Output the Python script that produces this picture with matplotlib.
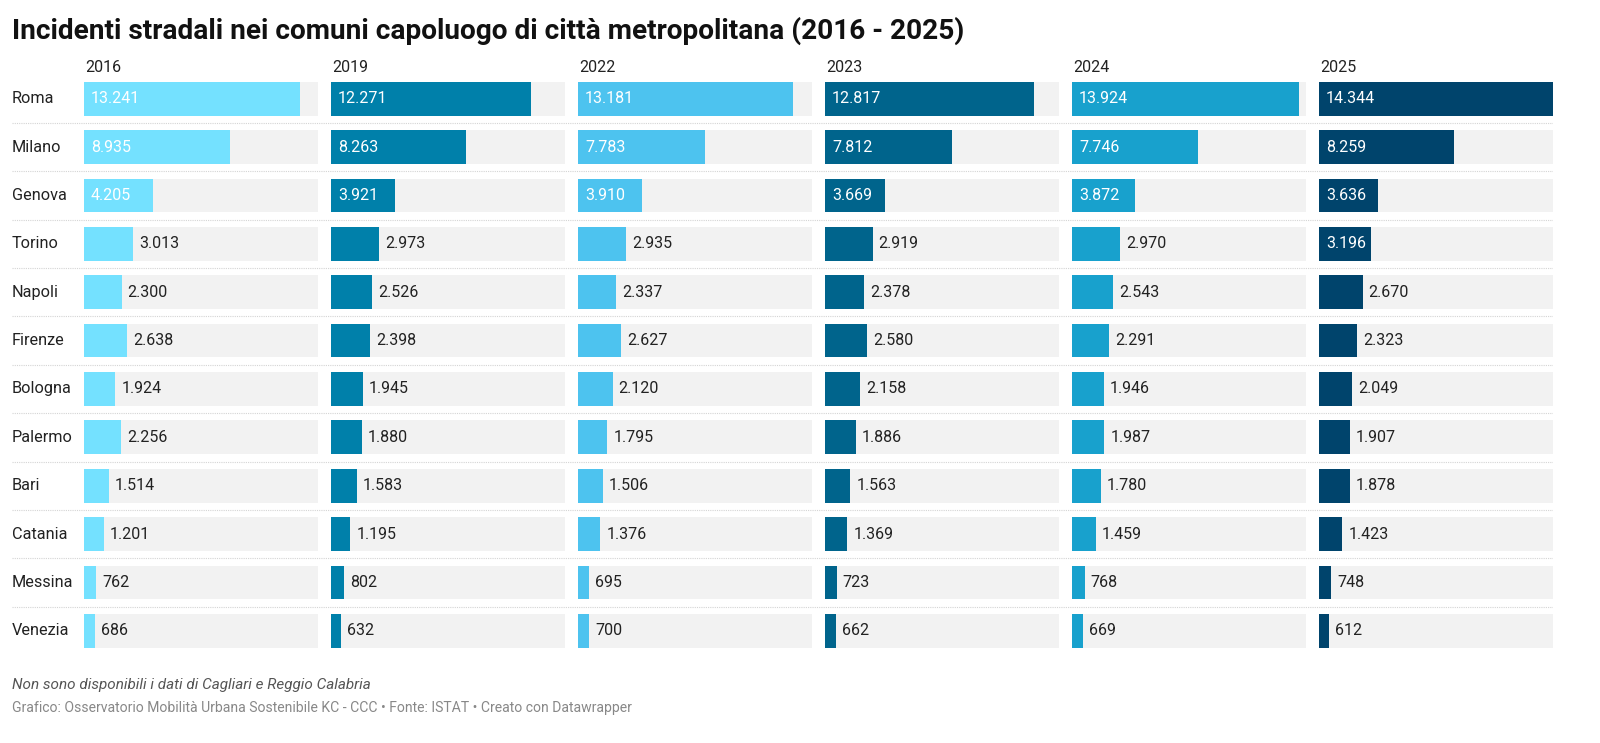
import matplotlib
matplotlib.use('Agg')
import matplotlib.pyplot as plt
from matplotlib.transforms import offset_copy

plt.rcParams['font.family'] = ['Roboto', 'DejaVu Sans']

# ── Data ──────────────────────────────────────────────────────────────────────
cities = ['Roma', 'Milano', 'Genova', 'Torino', 'Napoli', 'Firenze',
          'Bologna', 'Palermo', 'Bari', 'Catania', 'Messina', 'Venezia']
years = ['2016', '2019', '2022', '2023', '2024', '2025']
v2016 = [13241, 8935, 4205, 3013, 2300, 2638, 1924, 2256, 1514, 1201, 762, 686]
v2019 = [12271, 8263, 3921, 2973, 2526, 2398, 1945, 1880, 1583, 1195, 802, 632]
v2022 = [13181, 7783, 3910, 2935, 2337, 2627, 2120, 1795, 1506, 1376, 695, 700]
v2023 = [12817, 7812, 3669, 2919, 2378, 2580, 2158, 1886, 1563, 1369, 723, 662]
v2024 = [13924, 7746, 3872, 2970, 2543, 2291, 1946, 1987, 1780, 1459, 768, 669]
v2025 = [14344, 8259, 3636, 3196, 2670, 2323, 2049, 1907, 1878, 1423, 748, 612]
series = [v2016, v2019, v2022, v2023, v2024, v2025]
colors = ['#74e1ff', '#0080aa', '#4dc3ef', '#00648c', '#18a1cd', '#00446c']

W, H = 1600, 743
XMAX = max(max(s) for s in series)
INSIDE_MIN = 3100

def fmt(v):
    return f'{v:,}'.replace(',', '.')

fig = plt.figure(figsize=(W / 100, H / 100), dpi=100, facecolor='white')

def px_axes(x0, y0, x1, y1):
    return fig.add_axes([x0 / W, 1 - y1 / H, (x1 - x0) / W, (y1 - y0) / H])

n = len(cities)
top, bottom = 74.5, 655.0

# ── Row separators + city labels ──────────────────────────────────────────────
bg = px_axes(12, top, 1553, bottom)
bg.set_xlim(0, 1); bg.set_ylim(n - 0.5, -0.5); bg.axis('off')
for i in range(n - 1):
    bg.axhline(i + 0.5, color='#d4d4d4', lw=0.8, ls=(0, (1, 1)))
for i, c in enumerate(cities):
    bg.text(0, i, c, ha='left', va='center', fontsize=11.7, color='#222222')

# ── Panels ────────────────────────────────────────────────────────────────────
x_start, pw, gap = 84, 234, 13
for k, (yr, vals, col) in enumerate(zip(years, series, colors)):
    x0 = x_start + k * (pw + gap)
    ax = px_axes(x0, top, x0 + pw, bottom)
    ax.set_xlim(0, XMAX); ax.set_ylim(n - 0.5, -0.5); ax.axis('off')
    ys = list(range(n))
    ax.barh(ys, [XMAX] * n, height=0.70, color='#f2f2f2', lw=0)
    ax.barh(ys, vals, height=0.70, color=col, lw=0)
    fig.text((x0 + 1) / W, 1 - 68 / H, yr, ha='left', va='center',
             fontsize=11.5, color='#222222')
    for i, v in enumerate(vals):
        if v >= INSIDE_MIN:
            tr = offset_copy(ax.transData, fig=fig, x=7, y=0, units='dots')
            ax.text(0, i, fmt(v), transform=tr, ha='left', va='center',
                    fontsize=11.5, color='white')
        else:
            tr = offset_copy(ax.transData, fig=fig, x=6, y=0, units='dots')
            ax.text(v, i, fmt(v), transform=tr, ha='left', va='center',
                    fontsize=11.5, color='#222222')

# ── Title and footer ──────────────────────────────────────────────────────────
fig.text(12 / W, 1 - 31 / H, 'Incidenti stradali nei comuni capoluogo di città metropolitana (2016 - 2025)',
         ha='left', va='center', fontsize=20.2, fontweight='bold', color='#111111')
fig.text(12 / W, 1 - 685 / H, 'Non sono disponibili i dati di Cagliari e Reggio Calabria',
         ha='left', va='center', fontsize=11, style='italic', color='#555555')
fig.text(12 / W, 1 - 708 / H,
         'Grafico: Osservatorio Mobilità Urbana Sostenibile KC - CCC • Fonte: ISTAT • Creato con Datawrapper',
         ha='left', va='center', fontsize=10.1, color='#888888')

fig.savefig('out.png', dpi=100, facecolor='white')
